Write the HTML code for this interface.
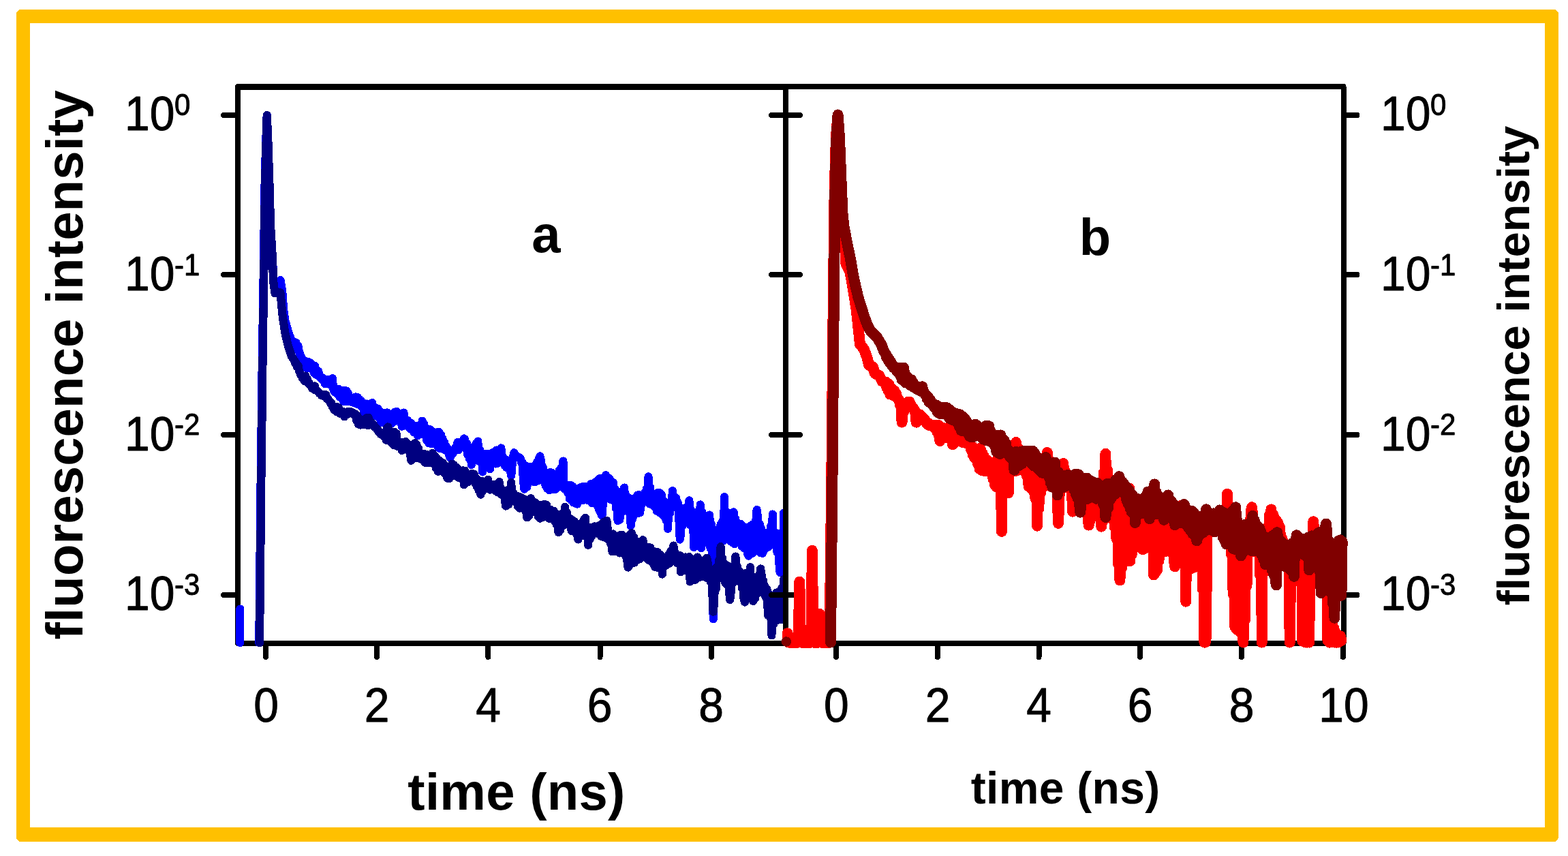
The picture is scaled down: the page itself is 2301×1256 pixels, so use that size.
<!DOCTYPE html>
<html lang="en"><head><meta charset="utf-8"><title>Fluorescence decay</title>
<style>
html,body{margin:0;padding:0;background:#fff;}
body{width:2301px;height:1256px;overflow:hidden;}
svg{display:block;}
text{font-family:"Liberation Sans",sans-serif;fill:#000;}
.b{font-weight:bold;}
.n{stroke:#000;stroke-width:0.9;stroke-linejoin:round;}
.ax{stroke:#000;stroke-width:8;fill:none;stroke-linecap:round;stroke-linejoin:round;}
.c{fill:none;stroke-linecap:round;stroke-linejoin:round;}
</style></head><body>
<svg shape-rendering="crispEdges" width="2301" height="1256" viewBox="0 0 2301 1256">
<rect x="0" y="0" width="2301" height="1256" fill="#fff"/>
<path fill="#FFC000" fill-rule="evenodd" d="M31 14 H2280 A7 7 0 0 1 2287 21 V1228 A7 7 0 0 1 2280 1235 H31 A7 7 0 0 1 24 1228 V21 A7 7 0 0 1 31 14 Z M44 34 V1214 H2267 V34 Z"/>
<path class="ax" d="M349 127 H1153 V944 H349 Z"/>
<path class="ax" stroke-width="8.6" style="stroke-width:8.6" d="M349 127.3 H1153"/>
<path class="ax" d="M328 169 H349"/>
<path class="ax" d="M328 403 H349"/>
<path class="ax" d="M328 638 H349"/>
<path class="ax" d="M328 873 H349"/>
<path class="ax" d="M390 944 V964"/>
<path class="ax" d="M553 944 V964"/>
<path class="ax" d="M716.3 944 V964"/>
<path class="ax" d="M880.5 944 V964"/>
<path class="ax" d="M1043.9 944 V964"/>
<path class="c" d="M352.3 893.5 L352.3 943.0" stroke="#0000FF" stroke-width="12.2"/>
<path class="c" d="M380.3 943.0 L382.6 710.0 L384.7 538.0 L386.9 390.0 L388.4 278.0 L389.8 225.0 L391.0 186.0 L391.7 169.0 L393.1 199.0 L395.7 278.0 L397.0 330.0 L400.0 380.0 L401.0 405.2 L403.5 419.9 L411.5 411.1 L414.3 428.3 L416.1 453.6 L418.3 470.4 L423.1 487.2 L428.3 500.8 L432.0 501.6 L433.4 508.0 L434.7 503.2 L436.1 512.2 L437.4 507.2 L438.8 515.8 L440.2 519.3 L441.5 523.7 L442.9 525.3 L444.2 528.7 L445.6 528.8 L447.0 535.2 L448.3 530.1 L449.7 539.9 L451.0 532.3 L452.4 538.9 L453.8 531.4 L455.1 540.4 L456.5 533.2 L457.8 541.9 L459.2 536.0 L460.6 547.1 L461.9 536.8 L463.3 549.6 L464.6 542.3 L466.0 550.1 L467.4 545.0 L468.7 552.9 L470.1 552.0 L471.4 555.5 L472.8 554.0 L474.2 558.1 L475.5 556.6 L476.9 563.1 L478.2 559.2 L479.6 562.0 L481.0 557.3 L482.3 563.2 L483.7 559.4 L485.0 564.9 L486.4 561.3 L487.8 555.3 L489.1 570.1 L490.5 574.8 L491.8 572.1 L493.2 576.2 L494.6 571.1 L495.9 578.8 L497.3 571.1 L498.6 582.6 L500.0 573.0 L501.4 584.4 L502.7 573.0 L504.1 588.7 L505.4 573.0 L506.8 589.4 L508.2 573.6 L509.5 588.9 L510.9 577.1 L512.2 589.2 L513.6 582.7 L515.0 589.2 L516.3 584.0 L517.7 590.5 L519.0 585.5 L520.4 590.7 L521.8 582.5 L523.1 592.5 L524.5 583.0 L525.8 591.7 L527.2 585.9 L528.6 594.7 L529.9 588.4 L531.3 597.6 L532.6 591.0 L534.0 604.3 L535.4 592.5 L536.7 605.4 L538.1 592.6 L539.4 605.2 L540.8 593.1 L542.2 606.5 L543.5 594.7 L544.9 607.6 L546.2 591.1 L547.6 610.3 L549.0 596.9 L550.3 609.6 L551.7 599.4 L553.0 611.0 L554.4 599.6 L555.8 612.6 L557.1 603.4 L558.5 617.5 L559.8 605.1 L561.2 620.2 L562.6 606.9 L563.9 619.4 L565.3 605.8 L566.6 619.4 L568.0 605.5 L569.4 619.0 L570.7 609.0 L572.1 621.7 L573.4 608.8 L574.8 621.1 L576.2 608.5 L577.5 618.7 L578.9 604.6 L580.2 617.8 L581.6 603.9 L583.0 616.7 L584.3 606.3 L585.7 617.2 L587.0 607.2 L588.4 617.3 L589.8 625.7 L591.1 615.9 L592.5 605.6 L593.8 620.2 L595.2 615.9 L596.6 621.5 L597.9 616.5 L599.3 626.1 L600.6 619.6 L602.0 629.5 L603.4 621.1 L604.7 630.7 L606.1 627.0 L607.4 634.5 L608.8 625.1 L610.2 635.5 L611.5 625.6 L612.9 639.0 L614.2 624.9 L615.6 635.5 L617.0 622.6 L618.3 636.3 L619.7 617.6 L621.0 637.3 L622.4 622.8 L623.8 638.9 L625.1 629.1 L626.5 646.8 L627.8 629.7 L629.2 650.3 L630.6 630.2 L631.9 650.7 L633.3 632.7 L634.6 651.0 L636.0 634.1 L637.4 651.0 L638.7 636.1 L640.1 652.4 L641.4 634.4 L642.8 655.9 L644.2 633.9 L645.5 658.1 L646.9 638.1 L648.2 657.2 L649.6 644.1 L651.0 659.3 L652.3 649.7 L653.7 660.6 L655.0 655.4 L656.4 662.6 L657.8 659.0 L659.1 667.8 L660.5 671.5 L661.8 667.6 L663.2 663.1 L664.6 665.4 L665.9 661.2 L667.3 661.4 L668.6 656.6 L670.0 658.5 L671.4 649.1 L672.7 660.4 L674.1 650.4 L675.4 655.7 L676.8 649.5 L678.2 655.0 L679.5 647.7 L680.9 643.5 L682.2 644.6 L683.6 658.4 L685.0 650.6 L686.3 667.2 L687.7 657.6 L689.0 673.3 L690.4 658.9 L691.8 682.0 L693.1 659.0 L694.5 670.7 L695.8 654.9 L697.2 669.9 L698.6 650.8 L699.9 674.2 L701.3 647.5 L702.6 676.4 L704.0 660.2 L705.4 678.5 L706.7 665.3 L708.1 692.5 L709.4 666.9 L710.8 682.5 L712.2 665.8 L713.5 682.7 L714.9 665.6 L716.2 682.2 L717.6 666.5 L719.0 688.3 L720.3 665.8 L721.7 680.9 L723.0 664.3 L724.4 679.8 L725.8 663.1 L727.1 680.5 L728.5 660.5 L729.8 679.9 L731.2 663.5 L732.6 677.2 L733.9 662.7 L735.3 657.5 L736.6 667.5 L738.0 678.8 L739.4 672.9 L740.7 683.2 L742.1 674.2 L743.4 686.2 L744.8 679.0 L746.2 687.5 L747.5 679.2 L748.9 691.0 L750.2 697.8 L751.6 681.9 L753.0 670.2 L754.3 664.3 L755.7 667.2 L757.0 670.3 L758.4 669.2 L759.8 670.2 L761.1 670.8 L762.5 671.8 L763.8 673.0 L765.2 678.8 L766.6 678.3 L767.9 703.3 L769.3 717.7 L770.6 712.3 L772.0 683.6 L773.4 714.7 L774.7 685.0 L776.1 706.2 L777.4 686.5 L778.8 704.9 L780.2 684.9 L781.5 704.7 L782.9 684.3 L784.2 707.2 L785.6 682.8 L787.0 706.5 L788.3 677.4 L789.7 705.5 L791.0 672.7 L792.4 669.5 L793.8 675.6 L795.1 703.5 L796.5 685.2 L797.8 706.1 L799.2 692.1 L800.6 712.4 L801.9 693.8 L803.3 717.0 L804.6 694.4 L806.0 719.3 L807.4 693.1 L808.7 718.4 L810.1 693.8 L811.4 717.6 L812.8 696.4 L814.2 718.4 L815.5 696.7 L816.9 715.9 L818.2 695.6 L819.6 711.6 L821.0 690.2 L822.3 711.9 L823.7 686.4 L825.0 712.9 L826.4 676.6 L827.8 717.0 L829.1 710.3 L830.5 716.9 L831.8 713.0 L833.2 723.5 L834.6 714.3 L835.9 731.8 L837.3 711.7 L838.6 734.1 L840.0 713.5 L841.4 737.3 L842.7 717.9 L844.1 738.5 L845.4 718.5 L846.8 739.6 L848.2 718.5 L849.5 732.3 L850.9 715.5 L852.2 733.9 L853.6 714.6 L855.0 733.9 L856.3 714.3 L857.7 731.2 L859.0 713.6 L860.4 733.0 L861.8 713.6 L863.1 734.5 L864.5 712.9 L865.8 734.1 L867.2 710.1 L868.6 738.1 L869.9 710.3 L871.3 736.2 L872.6 708.2 L874.0 739.5 L875.4 706.2 L876.7 742.4 L878.1 703.8 L879.4 748.9 L880.8 701.7 L882.2 754.3 L883.5 756.8 L884.9 736.4 L886.2 704.4 L887.6 732.2 L889.0 697.2 L890.3 731.4 L891.7 701.1 L893.0 730.8 L894.4 702.0 L895.8 732.7 L897.1 706.4 L898.5 733.6 L899.8 708.1 L901.2 732.8 L902.6 718.3 L903.9 745.9 L905.3 724.2 L906.6 764.2 L908.0 722.2 L909.4 762.8 L910.7 722.3 L912.1 752.0 L913.4 723.5 L914.8 745.9 L916.2 715.5 L917.5 745.1 L918.9 727.2 L920.2 745.7 L921.6 730.1 L923.0 752.0 L924.3 733.5 L925.7 771.5 L927.0 733.2 L928.4 761.1 L929.8 731.9 L931.1 753.9 L932.5 730.2 L933.8 752.9 L935.2 726.6 L936.6 753.1 L937.9 726.1 L939.3 752.2 L940.6 728.0 L942.0 739.3 L943.4 725.8 L944.7 735.4 L946.1 722.8 L947.4 734.4 L948.8 717.5 L950.2 734.6 L951.5 699.3 L952.9 739.1 L954.2 715.0 L955.6 740.1 L957.0 724.0 L958.3 739.1 L959.7 725.3 L961.0 744.4 L962.4 725.5 L963.8 749.7 L965.1 723.1 L966.5 750.2 L967.8 723.2 L969.2 753.1 L970.6 725.3 L971.9 754.7 L973.3 734.4 L974.6 757.6 L976.0 739.3 L977.4 763.1 L978.7 740.3 L980.1 775.7 L981.4 737.3 L982.8 753.4 L984.2 735.5 L985.5 745.4 L986.9 720.3 L988.2 744.4 L989.6 728.5 L991.0 742.1 L992.3 731.1 L993.7 743.8 L995.0 738.6 L996.4 761.3 L997.8 791.5 L999.1 783.4 L1000.5 745.5 L1001.8 770.9 L1003.2 748.9 L1004.6 764.7 L1005.9 747.6 L1007.3 764.2 L1008.6 743.3 L1010.0 764.9 L1011.4 734.4 L1012.7 770.4 L1014.1 748.3 L1015.4 770.4 L1016.8 753.2 L1018.2 803.0 L1019.5 754.3 L1020.9 778.4 L1022.2 754.0 L1023.6 784.9 L1025.0 750.5 L1026.3 787.5 L1027.7 740.4 L1029.0 804.2 L1030.4 751.0 L1031.8 790.2 L1033.1 756.1 L1034.5 796.0 L1035.8 757.2 L1037.2 796.0 L1038.6 757.2 L1039.9 796.8 L1041.3 755.6 L1042.6 805.0 L1044.0 769.4 L1045.4 814.5 L1046.7 908.2 L1048.1 815.8 L1049.4 778.3 L1050.8 809.5 L1052.2 778.3 L1053.5 802.4 L1054.9 777.0 L1056.2 797.9 L1057.6 769.6 L1059.0 794.5 L1060.3 764.5 L1061.7 793.7 L1063.0 729.3 L1064.4 791.4 L1065.8 751.2 L1067.1 791.4 L1068.5 755.3 L1069.8 791.5 L1071.2 753.3 L1072.6 794.7 L1073.9 753.0 L1075.3 796.3 L1076.6 751.3 L1078.0 798.2 L1079.4 761.5 L1080.7 794.6 L1082.1 770.4 L1083.4 794.9 L1084.8 768.5 L1086.2 795.9 L1087.5 769.1 L1088.9 801.8 L1090.2 772.2 L1091.6 804.3 L1093.0 773.6 L1094.3 804.6 L1095.7 775.1 L1097.0 811.8 L1098.4 815.7 L1099.8 812.3 L1101.1 771.8 L1102.5 812.6 L1103.8 769.9 L1105.2 811.1 L1106.6 768.7 L1107.9 807.3 L1109.3 765.4 L1110.6 748.2 L1112.0 758.4 L1113.4 808.9 L1114.7 768.5 L1116.1 811.1 L1117.4 775.8 L1118.8 811.8 L1120.2 784.0 L1121.5 807.1 L1122.9 785.0 L1124.2 802.4 L1125.6 785.0 L1127.0 802.7 L1128.3 780.6 L1129.7 800.8 L1131.0 772.4 L1132.4 798.1 L1133.8 754.5 L1135.1 798.9 L1136.5 783.5 L1137.8 801.2 L1139.2 785.6 L1140.6 810.8 L1141.9 783.2 L1143.3 825.2 L1144.6 839.9 L1146.0 834.5 L1147.4 781.4 L1148.7 835.3 L1150.1 752.4" stroke="#0000FF" stroke-width="12.2"/>
<path class="c" d="M381.0 943.0 L383.3 710.0 L385.4 538.0 L387.5 390.0 L388.9 278.0 L390.2 225.0 L391.2 186.0 L391.7 169.0 L393.1 199.0 L395.7 278.0 L397.0 330.0 L400.0 380.0 L401.0 411.5 L403.5 430.4 L411.5 429.4 L414.7 464.1 L418.5 489.3 L423.1 508.2 L427.9 522.9 L432.0 528.8 L433.4 533.0 L434.7 532.4 L436.1 538.6 L437.4 536.0 L438.8 543.6 L440.2 547.0 L441.5 550.2 L442.9 551.0 L444.2 555.6 L445.6 554.3 L447.0 559.1 L448.3 551.6 L449.7 559.8 L451.0 556.1 L452.4 562.7 L453.8 562.0 L455.1 565.3 L456.5 566.3 L457.8 569.6 L459.2 567.6 L460.6 570.4 L461.9 566.5 L463.3 572.6 L464.6 572.5 L466.0 574.4 L467.4 575.3 L468.7 577.2 L470.1 577.8 L471.4 579.9 L472.8 578.8 L474.2 580.8 L475.5 579.0 L476.9 581.0 L478.2 579.2 L479.6 584.8 L481.0 584.7 L482.3 587.2 L483.7 588.4 L485.0 591.6 L486.4 591.8 L487.8 596.7 L489.1 595.5 L490.5 601.7 L491.8 597.1 L493.2 603.7 L494.6 597.2 L495.9 604.5 L497.3 598.7 L498.6 606.7 L500.0 602.5 L501.4 606.4 L502.7 603.6 L504.1 607.5 L505.4 611.3 L506.8 607.6 L508.2 604.9 L509.5 608.0 L510.9 603.7 L512.2 606.6 L513.6 603.7 L515.0 606.0 L516.3 604.6 L517.7 606.9 L519.0 606.5 L520.4 609.4 L521.8 607.4 L523.1 617.0 L524.5 610.1 L525.8 622.3 L527.2 615.0 L528.6 623.5 L529.9 616.3 L531.3 622.5 L532.6 616.5 L534.0 622.7 L535.4 616.1 L536.7 622.4 L538.1 613.1 L539.4 624.2 L540.8 612.7 L542.2 622.0 L543.5 618.2 L544.9 622.8 L546.2 620.8 L547.6 624.9 L549.0 624.3 L550.3 626.8 L551.7 627.3 L553.0 629.8 L554.4 630.3 L555.8 634.0 L557.1 634.0 L558.5 637.0 L559.8 635.6 L561.2 638.7 L562.6 634.7 L563.9 640.7 L565.3 633.3 L566.6 645.7 L568.0 627.8 L569.4 626.4 L570.7 632.0 L572.1 647.6 L573.4 634.2 L574.8 650.1 L576.2 635.8 L577.5 652.8 L578.9 634.0 L580.2 652.3 L581.6 636.2 L583.0 654.9 L584.3 647.7 L585.7 651.6 L587.0 650.5 L588.4 652.6 L589.8 661.0 L591.1 654.2 L592.5 648.7 L593.8 655.5 L595.2 648.1 L596.6 659.4 L597.9 650.9 L599.3 661.5 L600.6 652.3 L602.0 666.8 L603.4 675.7 L604.7 670.8 L606.1 652.7 L607.4 669.2 L608.8 650.2 L610.2 671.7 L611.5 652.4 L612.9 672.3 L614.2 658.3 L615.6 671.8 L617.0 665.6 L618.3 674.0 L619.7 667.3 L621.0 675.5 L622.4 666.1 L623.8 678.8 L625.1 666.6 L626.5 679.4 L627.8 670.6 L629.2 678.2 L630.6 670.0 L631.9 678.9 L633.3 669.3 L634.6 664.9 L636.0 667.4 L637.4 681.3 L638.7 669.5 L640.1 687.3 L641.4 673.2 L642.8 691.7 L644.2 675.7 L645.5 688.6 L646.9 677.8 L648.2 689.6 L649.6 679.1 L651.0 693.0 L652.3 682.2 L653.7 696.0 L655.0 687.7 L656.4 701.6 L657.8 688.0 L659.1 702.1 L660.5 687.0 L661.8 698.6 L663.2 680.7 L664.6 697.5 L665.9 682.2 L667.3 697.6 L668.6 685.1 L670.0 698.0 L671.4 687.2 L672.7 700.8 L674.1 690.2 L675.4 700.2 L676.8 691.5 L678.2 702.8 L679.5 690.3 L680.9 711.4 L682.2 690.7 L683.6 708.0 L685.0 694.6 L686.3 707.3 L687.7 696.1 L689.0 703.5 L690.4 697.3 L691.8 703.5 L693.1 694.7 L694.5 703.8 L695.8 696.0 L697.2 709.2 L698.6 702.1 L699.9 714.3 L701.3 704.4 L702.6 719.3 L704.0 707.4 L705.4 725.7 L706.7 706.0 L708.1 720.4 L709.4 706.8 L710.8 717.9 L712.2 706.4 L713.5 715.7 L714.9 710.1 L716.2 703.8 L717.6 713.4 L719.0 718.6 L720.3 714.6 L721.7 716.6 L723.0 711.1 L724.4 718.6 L725.8 711.1 L727.1 720.4 L728.5 710.7 L729.8 721.9 L731.2 713.2 L732.6 706.9 L733.9 716.1 L735.3 725.2 L736.6 722.2 L738.0 727.0 L739.4 720.0 L740.7 732.2 L742.1 742.6 L743.4 738.3 L744.8 721.2 L746.2 740.3 L747.5 717.6 L748.9 736.5 L750.2 708.0 L751.6 735.3 L753.0 723.3 L754.3 735.4 L755.7 726.6 L757.0 737.0 L758.4 727.5 L759.8 742.9 L761.1 728.5 L762.5 745.7 L763.8 730.1 L765.2 743.9 L766.6 731.0 L767.9 744.9 L769.3 732.6 L770.6 749.2 L772.0 734.5 L773.4 759.4 L774.7 734.0 L776.1 756.9 L777.4 733.3 L778.8 731.1 L780.2 736.1 L781.5 751.1 L782.9 736.7 L784.2 751.0 L785.6 737.5 L787.0 752.3 L788.3 740.6 L789.7 757.7 L791.0 741.0 L792.4 760.7 L793.8 741.1 L795.1 758.9 L796.5 741.4 L797.8 758.5 L799.2 739.8 L800.6 757.8 L801.9 741.0 L803.3 757.6 L804.6 746.5 L806.0 760.8 L807.4 747.7 L808.7 761.4 L810.1 749.2 L811.4 761.8 L812.8 750.0 L814.2 765.5 L815.5 754.1 L816.9 769.8 L818.2 755.1 L819.6 781.2 L821.0 758.1 L822.3 777.6 L823.7 756.4 L825.0 771.6 L826.4 752.8 L827.8 770.1 L829.1 743.9 L830.5 766.4 L831.8 752.3 L833.2 767.4 L834.6 759.9 L835.9 770.5 L837.3 761.5 L838.6 778.8 L840.0 763.3 L841.4 779.7 L842.7 765.4 L844.1 779.0 L845.4 768.0 L846.8 781.7 L848.2 791.5 L849.5 786.4 L850.9 771.9 L852.2 786.8 L853.6 769.6 L855.0 786.3 L856.3 763.1 L857.7 785.1 L859.0 759.6 L860.4 787.7 L861.8 772.6 L863.1 799.9 L864.5 775.5 L865.8 790.9 L867.2 776.2 L868.6 786.1 L869.9 773.8 L871.3 781.0 L872.6 772.4 L874.0 780.0 L875.4 773.3 L876.7 780.3 L878.1 771.7 L879.4 784.1 L880.8 770.2 L882.2 787.1 L883.5 768.6 L884.9 787.8 L886.2 765.6 L887.6 788.7 L889.0 765.2 L890.3 763.8 L891.7 776.0 L893.0 791.9 L894.4 783.4 L895.8 797.3 L897.1 785.6 L898.5 809.4 L899.8 783.4 L901.2 809.3 L902.6 786.5 L903.9 809.1 L905.3 786.8 L906.6 809.6 L908.0 787.1 L909.4 811.5 L910.7 784.7 L912.1 809.6 L913.4 785.0 L914.8 812.0 L916.2 787.3 L917.5 815.0 L918.9 787.7 L920.2 821.6 L921.6 832.5 L923.0 830.8 L924.3 784.4 L925.7 827.5 L927.0 782.1 L928.4 826.5 L929.8 787.4 L931.1 825.6 L932.5 794.1 L933.8 822.1 L935.2 794.8 L936.6 820.8 L937.9 795.4 L939.3 819.9 L940.6 794.6 L942.0 816.5 L943.4 792.2 L944.7 816.1 L946.1 801.8 L947.4 816.1 L948.8 802.6 L950.2 820.4 L951.5 802.7 L952.9 822.5 L954.2 803.6 L955.6 823.6 L957.0 807.7 L958.3 826.8 L959.7 810.2 L961.0 831.7 L962.4 810.3 L963.8 832.6 L965.1 810.3 L966.5 832.9 L967.8 813.2 L969.2 832.7 L970.6 815.1 L971.9 842.6 L973.3 820.6 L974.6 831.7 L976.0 820.9 L977.4 829.5 L978.7 820.2 L980.1 827.6 L981.4 813.7 L982.8 826.1 L984.2 808.7 L985.5 821.9 L986.9 808.0 L988.2 800.6 L989.6 808.9 L991.0 822.6 L992.3 815.3 L993.7 826.3 L995.0 814.8 L996.4 827.6 L997.8 815.3 L999.1 839.2 L1000.5 818.5 L1001.8 833.8 L1003.2 817.9 L1004.6 833.0 L1005.9 817.4 L1007.3 837.3 L1008.6 819.2 L1010.0 837.8 L1011.4 817.0 L1012.7 853.5 L1014.1 821.2 L1015.4 849.8 L1016.8 822.2 L1018.2 850.8 L1019.5 823.3 L1020.9 850.5 L1022.2 819.2 L1023.6 817.5 L1025.0 821.0 L1026.3 847.1 L1027.7 822.4 L1029.0 845.9 L1030.4 824.6 L1031.8 845.8 L1033.1 823.5 L1034.5 846.7 L1035.8 821.5 L1037.2 818.6 L1038.6 825.7 L1039.9 849.5 L1041.3 835.7 L1042.6 853.7 L1044.0 838.0 L1045.4 871.3 L1046.7 897.7 L1048.1 884.5 L1049.4 834.4 L1050.8 864.5 L1052.2 832.0 L1053.5 849.9 L1054.9 822.5 L1056.2 848.4 L1057.6 802.2 L1059.0 848.1 L1060.3 819.4 L1061.7 849.2 L1063.0 827.3 L1064.4 855.6 L1065.8 829.0 L1067.1 857.8 L1068.5 830.5 L1069.8 864.6 L1071.2 879.9 L1072.6 869.6 L1073.9 834.1 L1075.3 855.9 L1076.6 831.4 L1078.0 852.6 L1079.4 816.5 L1080.7 851.8 L1082.1 832.0 L1083.4 850.1 L1084.8 837.7 L1086.2 852.4 L1087.5 840.7 L1088.9 863.0 L1090.2 842.4 L1091.6 878.3 L1093.0 883.6 L1094.3 880.5 L1095.7 840.6 L1097.0 875.5 L1098.4 841.4 L1099.8 874.5 L1101.1 832.3 L1102.5 874.7 L1103.8 847.5 L1105.2 882.0 L1106.6 847.1 L1107.9 878.3 L1109.3 847.6 L1110.6 871.9 L1112.0 846.8 L1113.4 868.9 L1114.7 847.6 L1116.1 834.4 L1117.4 842.0 L1118.8 869.8 L1120.2 852.4 L1121.5 872.0 L1122.9 861.2 L1124.2 877.4 L1125.6 865.2 L1127.0 902.8 L1128.3 871.5 L1129.7 905.4 L1131.0 873.8 L1132.4 932.4 L1133.8 874.3 L1135.1 916.0 L1136.5 873.7 L1137.8 910.7 L1139.2 869.6 L1140.6 909.9 L1141.9 868.7 L1143.3 908.3 L1144.6 867.8 L1146.0 909.4 L1147.4 862.2 L1148.7 907.7 L1150.1 850.1" stroke="#000080" stroke-width="12.2"/>
<path class="ax" d="M1153 127 H1971.5 V944 H1153 Z"/>
<path class="ax" style="stroke-width:8.2" d="M1153 127.1 H1971.5"/>
<path class="ax" d="M1132 169 H1174"/>
<path class="ax" d="M1971.5 169 H1991.5"/>
<path class="ax" d="M1132 403 H1174"/>
<path class="ax" d="M1971.5 403 H1991.5"/>
<path class="ax" d="M1132 638 H1174"/>
<path class="ax" d="M1971.5 638 H1991.5"/>
<path class="ax" d="M1132 873 H1174"/>
<path class="ax" d="M1971.5 873 H1991.5"/>
<path class="ax" d="M1227 944 V964"/>
<path class="ax" d="M1375.8 944 V964"/>
<path class="ax" d="M1524.5 944 V964"/>
<path class="ax" d="M1673 944 V964"/>
<path class="ax" d="M1821.8 944 V964"/>
<path class="ax" d="M1970.8 944 V964"/>
<path class="c" d="M1155.6 929.3 L1157.2 942.6 L1171.6 942.6 L1173.3 853.6 L1175.0 942.6 L1190.3 942.6 L1191.9 807.8 L1193.5 942.6 L1201.6 942.6 L1203.0 901.0 L1204.4 942.6 L1217.5 942.6 L1220.3 700.0 L1222.7 450.0 L1224.7 278.0 L1227.0 199.0 L1229.6 168.5 L1231.5 199.0 L1234.0 278.0 L1236.8 325.2 L1239.3 352.5 L1240.8 369.4 L1241.2 386.2 L1246.9 397.7 L1249.4 409.3 L1253.6 434.5 L1256.8 455.5 L1259.9 485.0 L1262.0 504.9 L1267.9 512.3 L1272.5 524.9 L1275.1 535.4 L1280.9 538.5 L1284.1 548.0 L1290.4 551.2 L1294.6 559.6 L1300.0 560.6 L1301.2 568.6 L1302.5 562.7 L1303.7 573.6 L1305.0 565.2 L1306.2 578.6 L1307.4 569.6 L1308.7 578.5 L1309.9 571.9 L1311.2 580.3 L1312.4 573.6 L1313.6 580.7 L1314.9 577.6 L1316.1 582.7 L1317.4 584.5 L1318.6 586.5 L1319.8 588.3 L1321.1 594.3 L1322.3 592.2 L1323.6 619.6 L1324.8 592.7 L1326.0 604.7 L1327.3 592.6 L1328.5 595.9 L1329.8 592.1 L1331.0 594.6 L1332.2 589.9 L1333.5 596.7 L1334.7 589.9 L1336.0 596.8 L1337.2 595.0 L1338.4 597.4 L1339.7 598.4 L1340.9 600.5 L1342.2 602.2 L1343.4 606.5 L1344.6 619.6 L1345.9 615.6 L1347.1 608.0 L1348.4 615.0 L1349.6 608.4 L1350.8 614.8 L1352.1 611.3 L1353.3 614.7 L1354.6 612.9 L1355.8 616.1 L1357.0 615.4 L1358.3 618.7 L1359.5 618.9 L1360.8 622.6 L1362.0 620.9 L1363.2 623.9 L1364.5 623.0 L1365.7 624.3 L1367.0 623.8 L1368.2 625.2 L1369.4 624.3 L1370.7 626.0 L1371.9 624.8 L1373.2 629.5 L1374.4 623.7 L1375.6 634.2 L1376.9 623.9 L1378.1 639.5 L1379.4 646.9 L1380.6 642.2 L1381.8 627.1 L1383.1 640.6 L1384.3 628.0 L1385.6 641.8 L1386.8 629.0 L1388.0 642.0 L1389.3 628.3 L1390.5 639.3 L1391.8 629.4 L1393.0 641.6 L1394.2 631.9 L1395.5 645.3 L1396.7 637.1 L1398.0 652.2 L1399.2 640.3 L1400.4 650.2 L1401.7 642.5 L1402.9 646.8 L1404.2 643.9 L1405.4 646.8 L1406.6 644.5 L1407.9 647.3 L1409.1 646.6 L1410.4 647.9 L1411.6 648.3 L1412.8 648.9 L1414.1 649.2 L1415.3 649.5 L1416.6 649.7 L1417.8 650.2 L1419.0 650.5 L1420.3 651.3 L1421.5 651.9 L1422.8 653.4 L1424.0 654.0 L1425.2 659.6 L1426.5 654.8 L1427.7 667.5 L1429.0 657.6 L1430.2 671.7 L1431.4 658.4 L1432.7 674.3 L1433.9 659.3 L1435.2 681.2 L1436.4 658.3 L1437.6 688.1 L1438.9 659.3 L1440.1 689.8 L1441.4 664.6 L1442.6 689.8 L1443.8 669.6 L1445.1 691.0 L1446.3 674.6 L1447.6 691.1 L1448.8 675.4 L1450.0 688.8 L1451.3 677.6 L1452.5 690.4 L1453.8 682.3 L1455.0 694.7 L1456.2 682.4 L1457.5 702.8 L1458.7 681.8 L1460.0 711.8 L1461.2 680.3 L1462.4 714.6 L1463.7 674.2 L1464.9 712.1 L1466.2 671.8 L1467.4 714.0 L1468.6 671.6 L1469.9 779.9 L1471.1 669.2 L1472.4 715.7 L1473.6 666.8 L1474.8 702.7 L1476.1 664.4 L1477.3 695.6 L1478.6 659.8 L1479.8 723.3 L1481.0 657.5 L1482.3 689.8 L1483.5 656.7 L1484.8 688.9 L1486.0 654.5 L1487.2 691.6 L1488.5 652.7 L1489.7 691.1 L1491.0 649.0 L1492.2 690.7 L1493.4 657.0 L1494.7 687.6 L1495.9 671.4 L1497.2 687.1 L1498.4 674.6 L1499.6 687.1 L1500.9 680.0 L1502.1 690.6 L1503.4 680.4 L1504.6 692.5 L1505.8 680.7 L1507.1 698.6 L1508.3 681.0 L1509.6 713.6 L1510.8 677.3 L1512.0 715.3 L1513.3 677.6 L1514.5 718.1 L1515.8 677.8 L1517.0 721.9 L1518.2 679.4 L1519.5 731.3 L1520.7 679.6 L1522.0 771.6 L1523.2 679.7 L1524.4 746.4 L1525.7 679.0 L1526.9 723.7 L1528.2 675.9 L1529.4 714.1 L1530.6 677.4 L1531.9 711.9 L1533.1 675.3 L1534.4 712.9 L1535.6 670.0 L1536.8 664.2 L1538.1 675.9 L1539.3 712.8 L1540.6 680.3 L1541.8 710.6 L1543.0 686.0 L1544.3 710.8 L1545.5 689.7 L1546.8 711.7 L1548.0 691.6 L1549.2 715.5 L1550.5 690.9 L1551.7 727.1 L1553.0 767.9 L1554.2 740.4 L1555.4 692.0 L1556.7 718.1 L1557.9 689.7 L1559.2 714.6 L1560.4 680.1 L1561.6 713.3 L1562.9 691.2 L1564.1 712.8 L1565.4 696.9 L1566.6 715.6 L1567.8 700.2 L1569.1 716.7 L1570.3 707.0 L1571.6 719.0 L1572.8 710.3 L1574.0 750.6 L1575.3 713.3 L1576.5 737.9 L1577.8 711.5 L1579.0 736.7 L1580.2 714.1 L1581.5 736.5 L1582.7 715.0 L1584.0 740.8 L1585.2 715.8 L1586.4 742.0 L1587.7 714.7 L1588.9 739.7 L1590.2 715.6 L1591.4 740.9 L1592.6 718.6 L1593.9 742.4 L1595.1 719.4 L1596.4 745.8 L1597.6 770.6 L1598.8 766.0 L1600.1 721.1 L1601.3 760.1 L1602.6 719.7 L1603.8 757.9 L1605.0 720.4 L1606.3 753.6 L1607.5 720.3 L1608.8 753.5 L1610.0 721.0 L1611.2 754.0 L1612.5 718.7 L1613.7 758.7 L1615.0 714.9 L1616.2 772.7 L1617.4 710.9 L1618.7 764.3 L1619.9 693.2 L1621.2 758.1 L1622.4 665.8 L1623.6 756.7 L1624.9 689.3 L1626.1 756.3 L1627.4 711.3 L1628.6 759.6 L1629.8 714.0 L1631.1 760.9 L1632.3 715.6 L1633.6 760.8 L1634.8 717.1 L1636.0 774.0 L1637.3 715.3 L1638.5 790.6 L1639.8 716.9 L1641.0 827.8 L1642.2 719.6 L1643.5 851.5 L1644.7 721.1 L1646.0 833.4 L1647.2 721.8 L1648.4 826.3 L1649.7 721.7 L1650.9 822.2 L1652.2 719.5 L1653.4 820.6 L1654.6 720.6 L1655.9 823.2 L1657.1 716.3 L1658.4 823.1 L1659.6 732.2 L1660.8 813.4 L1662.1 738.7 L1663.3 804.2 L1664.6 739.7 L1665.8 800.6 L1667.0 743.7 L1668.3 801.9 L1669.5 744.1 L1670.8 798.3 L1672.0 743.7 L1673.2 798.5 L1674.5 740.0 L1675.7 799.4 L1677.0 806.3 L1678.2 801.3 L1679.4 738.0 L1680.7 804.2 L1681.9 740.6 L1683.2 803.5 L1684.4 739.6 L1685.6 800.6 L1686.9 743.3 L1688.1 801.3 L1689.4 750.2 L1690.6 733.1 L1691.8 753.5 L1693.1 843.5 L1694.3 759.6 L1695.6 840.1 L1696.8 761.2 L1698.0 836.3 L1699.3 761.9 L1700.5 823.1 L1701.8 762.6 L1703.0 810.9 L1704.2 763.2 L1705.5 808.7 L1706.7 762.1 L1708.0 809.2 L1709.2 765.6 L1710.4 809.1 L1711.7 766.3 L1712.9 805.9 L1714.2 767.0 L1715.4 805.9 L1716.6 764.8 L1717.9 806.7 L1719.1 765.5 L1720.4 811.8 L1721.6 768.5 L1722.8 820.0 L1724.1 831.2 L1725.3 822.8 L1726.6 767.8 L1727.8 820.9 L1729.0 763.6 L1730.3 820.1 L1731.5 742.2 L1732.8 824.0 L1734.0 765.4 L1735.2 824.7 L1736.5 769.2 L1737.7 823.6 L1739.0 770.7 L1740.2 882.7 L1741.4 772.1 L1742.7 835.5 L1743.9 771.2 L1745.2 832.7 L1746.4 772.7 L1747.6 834.3 L1748.9 777.8 L1750.1 833.1 L1751.4 779.3 L1752.6 832.6 L1753.8 780.7 L1755.1 829.5 L1756.3 778.5 L1757.6 829.8 L1758.8 780.0 L1760.0 830.9 L1761.3 780.9 L1762.5 833.6 L1763.8 783.4 L1765.0 865.0 L1766.2 783.4 L1767.5 942.6 L1768.7 942.6 L1770.0 934.5 L1771.2 783.4 L1772.4 782.1 L1773.7 781.0 L1774.9 780.2 L1776.2 779.9 L1777.4 779.5 L1778.6 779.4 L1779.9 779.3 L1781.1 779.3 L1782.4 779.3 L1783.6 779.3 L1784.8 779.3 L1786.1 779.3 L1787.3 779.3 L1788.6 779.3 L1789.8 779.2 L1791.0 779.0 L1792.3 778.6 L1793.5 778.2 L1794.8 777.6 L1796.0 775.2 L1797.2 776.0 L1798.5 754.4 L1799.7 776.2 L1801.0 724.7 L1802.2 777.4 L1803.4 760.5 L1804.7 781.7 L1805.9 777.8 L1807.2 814.0 L1808.4 783.5 L1809.6 871.5 L1810.9 784.5 L1812.1 919.3 L1813.4 785.3 L1814.6 923.3 L1815.8 786.2 L1817.1 923.7 L1818.3 783.5 L1819.6 926.5 L1820.8 784.4 L1822.0 929.9 L1823.3 787.1 L1824.5 942.6 L1825.8 787.2 L1827.0 909.7 L1828.2 786.7 L1829.5 859.7 L1830.7 785.1 L1832.0 810.5 L1833.2 777.3 L1834.4 807.8 L1835.7 751.2 L1836.9 744.3 L1838.2 755.2 L1839.4 809.1 L1840.6 776.7 L1841.9 806.8 L1843.1 781.3 L1844.4 807.7 L1845.6 780.5 L1846.8 810.0 L1848.1 781.1 L1849.3 844.5 L1850.6 781.1 L1851.8 942.6 L1853.0 781.0 L1854.3 790.3 L1855.5 782.9 L1856.8 787.6 L1858.0 781.0 L1859.2 786.6 L1860.5 774.8 L1861.7 788.1 L1863.0 755.6 L1864.2 788.1 L1865.4 747.4 L1866.7 785.7 L1867.9 754.5 L1869.2 785.7 L1870.4 760.5 L1871.6 785.7 L1872.9 763.7 L1874.1 788.1 L1875.4 767.4 L1876.6 788.1 L1877.8 772.7 L1879.1 788.1 L1880.3 788.3 L1881.6 791.3 L1882.8 795.8 L1884.0 798.7 L1885.3 800.2 L1886.5 800.8 L1887.8 801.8 L1889.0 802.5 L1890.2 803.3 L1891.5 813.0 L1892.7 942.6 L1894.0 849.6 L1895.2 814.7 L1896.4 844.6 L1897.7 814.7 L1898.9 843.8 L1900.2 814.7 L1901.4 843.7 L1902.6 817.7 L1903.9 847.3 L1905.1 817.7 L1906.4 848.7 L1907.6 817.7 L1908.8 849.9 L1910.1 817.7 L1911.3 940.7 L1912.6 814.7 L1913.8 940.7 L1915.0 814.7 L1916.3 942.6 L1917.5 817.7 L1918.8 942.6 L1920.0 817.0 L1921.2 942.6 L1922.5 815.1 L1923.7 815.6 L1925.0 806.9 L1926.2 809.2 L1927.4 765.3 L1928.7 807.6 L1929.9 793.6 L1931.2 809.1 L1932.4 809.3 L1933.6 810.3 L1934.9 811.1 L1936.1 811.4 L1937.4 811.7 L1938.6 812.0 L1939.8 812.5 L1941.1 812.9 L1942.3 813.7 L1943.6 814.4 L1944.8 816.0 L1946.0 827.6 L1947.3 822.5 L1948.5 940.2 L1949.8 823.6 L1951.0 942.6 L1952.2 843.2 L1953.5 941.6 L1954.7 893.2 L1956.0 941.6 L1957.2 921.3 L1958.4 942.6 L1959.7 927.6 L1960.9 942.6 L1962.2 932.6 L1963.4 942.6 L1964.6 933.4 L1965.9 940.0 L1967.1 933.4 L1968.4 940.0" stroke="#FF0000" stroke-width="16"/>
<path class="c" d="M1219.0 942.6 L1221.5 700.0 L1223.7 450.0 L1225.5 278.0 L1227.6 199.0 L1229.6 168.5 L1231.8 199.0 L1235.0 278.0 L1236.4 312.6 L1238.3 331.5 L1243.1 356.7 L1248.0 379.9 L1251.5 400.9 L1255.7 420.8 L1259.5 436.6 L1264.1 451.3 L1268.8 466.0 L1273.6 478.6 L1277.8 486.0 L1287.3 495.5 L1293.6 506.0 L1296.7 514.4 L1300.0 520.2 L1301.2 524.4 L1302.5 523.9 L1303.7 528.5 L1305.0 527.7 L1306.2 532.7 L1307.4 531.0 L1308.7 536.1 L1309.9 535.2 L1311.2 539.2 L1312.4 538.2 L1313.6 541.2 L1314.9 540.7 L1316.1 544.2 L1317.4 542.5 L1318.6 547.3 L1319.8 540.0 L1321.1 551.1 L1322.3 540.3 L1323.6 557.0 L1324.8 544.0 L1326.0 539.6 L1327.3 549.8 L1328.5 561.2 L1329.8 552.3 L1331.0 561.8 L1332.2 554.3 L1333.5 562.4 L1334.7 556.8 L1336.0 565.3 L1337.2 557.1 L1338.4 565.8 L1339.7 561.2 L1340.9 567.9 L1342.2 565.2 L1343.4 569.5 L1344.6 568.2 L1345.9 571.2 L1347.1 569.2 L1348.4 572.5 L1349.6 569.6 L1350.8 573.7 L1352.1 571.0 L1353.3 567.4 L1354.6 574.6 L1355.8 576.5 L1357.0 576.9 L1358.3 579.8 L1359.5 580.0 L1360.8 585.6 L1362.0 582.9 L1363.2 589.6 L1364.5 586.2 L1365.7 590.5 L1367.0 590.1 L1368.2 594.0 L1369.4 593.7 L1370.7 597.1 L1371.9 593.8 L1373.2 599.4 L1374.4 594.8 L1375.6 604.5 L1376.9 599.4 L1378.1 606.1 L1379.4 600.3 L1380.6 607.4 L1381.8 601.2 L1383.1 605.3 L1384.3 597.9 L1385.6 606.6 L1386.8 598.1 L1388.0 607.8 L1389.3 598.3 L1390.5 609.1 L1391.8 600.2 L1393.0 613.6 L1394.2 601.6 L1395.5 614.9 L1396.7 604.5 L1398.0 616.4 L1399.2 605.5 L1400.4 616.4 L1401.7 606.9 L1402.9 618.1 L1404.2 607.3 L1405.4 620.8 L1406.6 608.7 L1407.9 626.4 L1409.1 608.4 L1410.4 631.4 L1411.6 610.6 L1412.8 632.4 L1414.1 613.0 L1415.3 631.6 L1416.6 615.4 L1417.8 632.8 L1419.0 619.2 L1420.3 635.3 L1421.5 624.5 L1422.8 640.0 L1424.0 625.3 L1425.2 641.2 L1426.5 625.2 L1427.7 641.4 L1429.0 624.6 L1430.2 639.2 L1431.4 622.7 L1432.7 638.4 L1433.9 624.3 L1435.2 638.2 L1436.4 628.9 L1437.6 638.8 L1438.9 629.0 L1440.1 641.7 L1441.4 629.0 L1442.6 644.2 L1443.8 629.0 L1445.1 645.2 L1446.3 625.2 L1447.6 646.5 L1448.8 625.2 L1450.0 646.5 L1451.3 625.2 L1452.5 646.6 L1453.8 632.8 L1455.0 649.0 L1456.2 636.9 L1457.5 649.2 L1458.7 639.7 L1460.0 654.9 L1461.2 638.6 L1462.4 662.9 L1463.7 641.9 L1464.9 664.5 L1466.2 643.1 L1467.4 666.0 L1468.6 638.4 L1469.9 663.8 L1471.1 648.5 L1472.4 663.3 L1473.6 646.1 L1474.8 663.1 L1476.1 651.0 L1477.3 663.7 L1478.6 659.4 L1479.8 667.0 L1481.0 662.9 L1482.3 670.6 L1483.5 665.0 L1484.8 671.1 L1486.0 663.7 L1487.2 674.6 L1488.5 689.7 L1489.7 683.4 L1491.0 663.0 L1492.2 681.5 L1493.4 663.8 L1494.7 683.4 L1495.9 663.4 L1497.2 681.9 L1498.4 663.3 L1499.6 680.4 L1500.9 662.1 L1502.1 676.3 L1503.4 662.0 L1504.6 675.1 L1505.8 661.5 L1507.1 674.7 L1508.3 662.7 L1509.6 674.9 L1510.8 661.8 L1512.0 678.6 L1513.3 662.4 L1514.5 680.9 L1515.8 661.9 L1517.0 683.4 L1518.2 665.3 L1519.5 683.2 L1520.7 669.4 L1522.0 685.8 L1523.2 675.4 L1524.4 688.7 L1525.7 676.5 L1526.9 690.7 L1528.2 676.8 L1529.4 693.7 L1530.6 676.3 L1531.9 694.1 L1533.1 676.4 L1534.4 671.1 L1535.6 675.3 L1536.8 693.6 L1538.1 677.7 L1539.3 700.3 L1540.6 679.1 L1541.8 708.2 L1543.0 680.8 L1544.3 714.8 L1545.5 684.1 L1546.8 715.1 L1548.0 678.5 L1549.2 712.4 L1550.5 691.1 L1551.7 726.5 L1553.0 692.7 L1554.2 715.1 L1555.4 697.5 L1556.7 713.6 L1557.9 698.5 L1559.2 715.7 L1560.4 699.5 L1561.6 714.4 L1562.9 700.5 L1564.1 710.9 L1565.4 697.3 L1566.6 710.0 L1567.8 697.2 L1569.1 709.9 L1570.3 700.7 L1571.6 710.6 L1572.8 700.4 L1574.0 714.6 L1575.3 700.1 L1576.5 718.9 L1577.8 695.9 L1579.0 725.7 L1580.2 695.6 L1581.5 731.1 L1582.7 696.3 L1584.0 737.8 L1585.2 751.7 L1586.4 741.1 L1587.7 701.2 L1588.9 734.0 L1590.2 702.3 L1591.4 733.1 L1592.6 703.3 L1593.9 732.0 L1595.1 701.6 L1596.4 731.7 L1597.6 704.2 L1598.8 729.3 L1600.1 705.3 L1601.3 729.3 L1602.6 707.0 L1603.8 729.3 L1605.0 708.6 L1606.3 729.3 L1607.5 708.4 L1608.8 731.8 L1610.0 708.9 L1611.2 728.4 L1612.5 713.0 L1613.7 729.9 L1615.0 713.1 L1616.2 732.3 L1617.4 713.3 L1618.7 738.7 L1619.9 713.5 L1621.2 741.2 L1622.4 759.0 L1623.6 744.1 L1624.9 709.9 L1626.1 745.0 L1627.4 710.0 L1628.6 733.9 L1629.8 711.2 L1631.1 730.2 L1632.3 709.8 L1633.6 726.6 L1634.8 708.0 L1636.0 725.1 L1637.3 704.4 L1638.5 722.8 L1639.8 702.6 L1641.0 721.8 L1642.2 699.1 L1643.5 718.8 L1644.7 704.8 L1646.0 719.4 L1647.2 707.3 L1648.4 721.0 L1649.7 710.7 L1650.9 725.3 L1652.2 713.5 L1653.4 734.4 L1654.6 717.4 L1655.9 739.6 L1657.1 719.5 L1658.4 745.7 L1659.6 724.4 L1660.8 751.3 L1662.1 726.9 L1663.3 753.4 L1664.6 731.4 L1665.8 767.0 L1667.0 734.7 L1668.3 757.1 L1669.5 732.1 L1670.8 754.6 L1672.0 732.7 L1673.2 752.8 L1674.5 736.1 L1675.7 751.6 L1677.0 735.0 L1678.2 752.8 L1679.4 732.3 L1680.7 753.4 L1681.9 727.3 L1683.2 754.9 L1684.4 721.7 L1685.6 755.7 L1686.9 761.1 L1688.1 756.9 L1689.4 720.1 L1690.6 754.9 L1691.8 717.6 L1693.1 753.2 L1694.3 710.4 L1695.6 753.8 L1696.8 722.6 L1698.0 753.9 L1699.3 729.0 L1700.5 750.6 L1701.8 731.8 L1703.0 751.2 L1704.2 730.1 L1705.5 752.8 L1706.7 730.5 L1708.0 762.9 L1709.2 731.4 L1710.4 759.9 L1711.7 730.2 L1712.9 756.3 L1714.2 726.4 L1715.4 756.2 L1716.6 733.7 L1717.9 756.9 L1719.1 735.7 L1720.4 758.5 L1721.6 739.1 L1722.8 764.2 L1724.1 770.2 L1725.3 765.9 L1726.6 747.1 L1727.8 767.2 L1729.0 747.6 L1730.3 766.4 L1731.5 747.4 L1732.8 767.1 L1734.0 742.9 L1735.2 767.3 L1736.5 743.5 L1737.7 740.1 L1739.0 745.0 L1740.2 769.1 L1741.4 746.9 L1742.7 772.5 L1743.9 748.6 L1745.2 775.9 L1746.4 750.0 L1747.6 779.3 L1748.9 749.6 L1750.1 783.0 L1751.4 751.8 L1752.6 785.2 L1753.8 756.4 L1755.1 787.4 L1756.3 793.3 L1757.6 787.4 L1758.8 759.7 L1760.0 785.2 L1761.3 757.9 L1762.5 782.3 L1763.8 757.3 L1765.0 781.9 L1766.2 756.1 L1767.5 779.7 L1768.7 757.5 L1770.0 747.4 L1771.2 754.7 L1772.4 776.5 L1773.7 755.7 L1774.9 777.1 L1776.2 757.1 L1777.4 777.7 L1778.6 753.6 L1779.9 778.3 L1781.1 753.4 L1782.4 780.2 L1783.6 755.3 L1784.8 776.9 L1786.1 754.1 L1787.3 777.0 L1788.6 753.0 L1789.8 748.5 L1791.0 752.6 L1792.3 780.2 L1793.5 751.0 L1794.8 788.2 L1796.0 752.2 L1797.2 793.2 L1798.5 753.3 L1799.7 798.5 L1801.0 756.1 L1802.2 796.2 L1803.4 755.7 L1804.7 797.9 L1805.9 754.4 L1807.2 799.6 L1808.4 750.0 L1809.6 805.0 L1810.9 748.2 L1812.1 805.9 L1813.4 744.3 L1814.6 805.2 L1815.8 764.3 L1817.1 806.2 L1818.3 770.1 L1819.6 808.1 L1820.8 815.4 L1822.0 811.9 L1823.3 772.3 L1824.5 810.1 L1825.8 770.3 L1827.0 806.7 L1828.2 769.5 L1829.5 806.3 L1830.7 770.9 L1832.0 806.0 L1833.2 768.4 L1834.4 805.7 L1835.7 765.9 L1836.9 808.1 L1838.2 756.9 L1839.4 808.5 L1840.6 763.0 L1841.9 807.4 L1843.1 769.6 L1844.4 808.1 L1845.6 772.2 L1846.8 808.7 L1848.1 774.7 L1849.3 809.8 L1850.6 780.7 L1851.8 814.3 L1853.0 785.3 L1854.3 821.0 L1855.5 791.6 L1856.8 828.1 L1858.0 792.7 L1859.2 827.5 L1860.5 792.9 L1861.7 828.2 L1863.0 792.4 L1864.2 829.8 L1865.4 787.4 L1866.7 836.2 L1867.9 785.8 L1869.2 843.3 L1870.4 784.1 L1871.6 850.5 L1872.9 858.5 L1874.1 781.1 L1875.4 788.1 L1876.6 831.1 L1877.8 792.6 L1879.1 829.5 L1880.3 795.0 L1881.6 828.9 L1882.8 797.5 L1884.0 830.7 L1885.3 802.1 L1886.5 831.6 L1887.8 802.4 L1889.0 831.4 L1890.2 802.1 L1891.5 833.9 L1892.7 801.8 L1894.0 836.4 L1895.2 797.9 L1896.4 838.9 L1897.7 799.5 L1898.9 845.9 L1900.2 797.9 L1901.4 812.1 L1902.6 785.3 L1903.9 809.9 L1905.1 790.7 L1906.4 808.9 L1907.6 789.9 L1908.8 808.8 L1910.1 790.5 L1911.3 812.1 L1912.6 792.3 L1913.8 814.0 L1915.0 791.7 L1916.3 815.0 L1917.5 791.1 L1918.8 818.4 L1920.0 788.4 L1921.2 836.4 L1922.5 787.5 L1923.7 828.9 L1925.0 786.3 L1926.2 830.4 L1927.4 787.2 L1928.7 830.3 L1929.9 786.0 L1931.2 827.7 L1932.4 785.0 L1933.6 829.6 L1934.9 781.9 L1936.1 837.5 L1937.4 780.9 L1938.6 870.1 L1939.8 781.0 L1941.1 867.8 L1942.3 778.4 L1943.6 864.3 L1944.8 774.0 L1946.0 768.5 L1947.3 784.3 L1948.5 864.0 L1949.8 793.5 L1951.0 865.1 L1952.2 795.8 L1953.5 870.0 L1954.7 797.2 L1956.0 885.1 L1957.2 800.6 L1958.4 906.8 L1959.7 800.2 L1960.9 874.7 L1962.2 798.8 L1963.4 875.3 L1964.6 793.4 L1965.9 874.3 L1967.1 792.4 L1968.4 873.8 L1969.6 794.6" stroke="#800000" stroke-width="16"/>
<circle cx="1153.8" cy="941.5" r="7.3" fill="#800000"/>
<text class="n" transform="translate(183 191.0) scale(1 1.055)" font-size="66">10<tspan font-size="42" dy="-21.2" dx="-0.5">0</tspan></text>
<text class="n" transform="translate(2026 191.0) scale(1 1.055)" font-size="66">10<tspan font-size="42" dy="-21.2" dx="-0.5">0</tspan></text>
<text class="n" transform="translate(183 425.9) scale(1 1.055)" font-size="66">10<tspan font-size="42" dy="-21.2" dx="-0.5">-1</tspan></text>
<text class="n" transform="translate(2026 425.9) scale(1 1.055)" font-size="66">10<tspan font-size="42" dy="-21.2" dx="-0.5">-1</tspan></text>
<text class="n" transform="translate(183 660.7) scale(1 1.055)" font-size="66">10<tspan font-size="42" dy="-21.2" dx="-0.5">-2</tspan></text>
<text class="n" transform="translate(2026 660.7) scale(1 1.055)" font-size="66">10<tspan font-size="42" dy="-21.2" dx="-0.5">-2</tspan></text>
<text class="n" transform="translate(183 895.3) scale(1 1.055)" font-size="66">10<tspan font-size="42" dy="-21.2" dx="-0.5">-3</tspan></text>
<text class="n" transform="translate(2026 895.3) scale(1 1.055)" font-size="66">10<tspan font-size="42" dy="-21.2" dx="-0.5">-3</tspan></text>
<text class="n" transform="translate(390.5 1059) scale(1 1.055)" font-size="66" text-anchor="middle">0</text>
<text class="n" transform="translate(553 1059) scale(1 1.055)" font-size="66" text-anchor="middle">2</text>
<text class="n" transform="translate(716.5 1059) scale(1 1.055)" font-size="66" text-anchor="middle">4</text>
<text class="n" transform="translate(880 1059) scale(1 1.055)" font-size="66" text-anchor="middle">6</text>
<text class="n" transform="translate(1043.5 1059) scale(1 1.055)" font-size="66" text-anchor="middle">8</text>
<text class="n" transform="translate(1227.4 1059) scale(1 1.055)" font-size="66" text-anchor="middle">0</text>
<text class="n" transform="translate(1376 1059) scale(1 1.055)" font-size="66" text-anchor="middle">2</text>
<text class="n" transform="translate(1524.5 1059) scale(1 1.055)" font-size="66" text-anchor="middle">4</text>
<text class="n" transform="translate(1673 1059) scale(1 1.055)" font-size="66" text-anchor="middle">6</text>
<text class="n" transform="translate(1822 1059) scale(1 1.055)" font-size="66" text-anchor="middle">8</text>
<text class="n" transform="translate(1972 1059) scale(1 1.055)" font-size="66" text-anchor="middle">10</text>
<text class="b" x="598.3" y="1188" font-size="76" letter-spacing="0.3">time (ns)</text>
<text class="b" x="1424.8" y="1179" font-size="66" letter-spacing="0.3">time (ns)</text>
<text class="b" x="801.5" y="369.5" font-size="76" text-anchor="middle">a</text>
<text class="b" x="1607" y="374" font-size="76" text-anchor="middle">b</text>
<text class="b" transform="translate(120.5 938.4) rotate(-90)" font-size="76" letter-spacing="0.17">fluorescence intensity</text>
<text class="b" transform="translate(2244 888.6) rotate(-90)" font-size="67" letter-spacing="-0.17">fluorescence intensity</text>
</svg></body></html>
